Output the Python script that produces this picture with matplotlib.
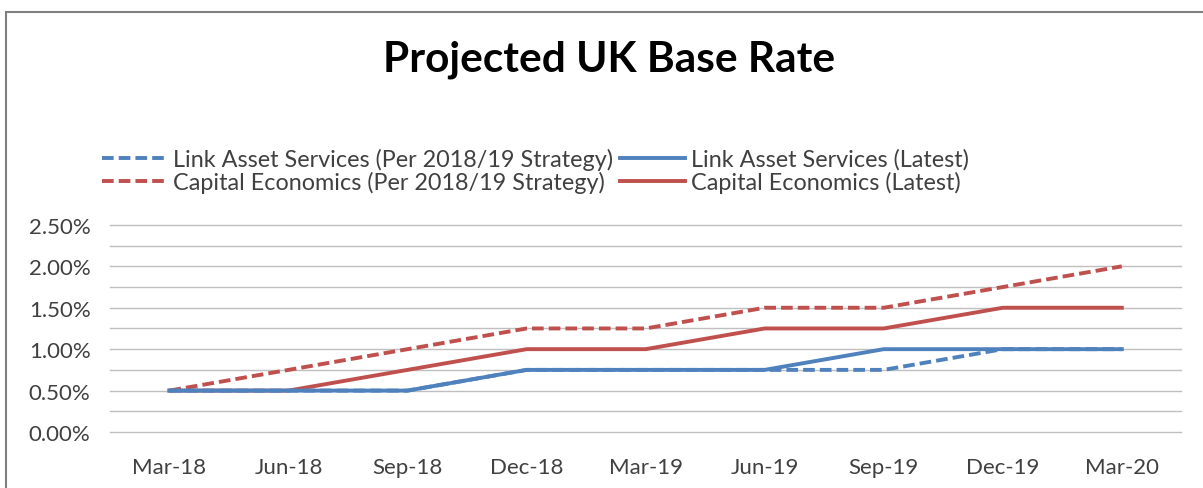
import matplotlib
matplotlib.use('Agg')
import numpy as np
import matplotlib.pyplot as plt
from matplotlib.ticker import FuncFormatter, MultipleLocator
from matplotlib.patches import Rectangle

plt.rcParams['font.family'] = ['Lato', 'DejaVu Sans']

# Quarterly base rate projections (%)
quarters = ['Mar-18', 'Jun-18', 'Sep-18', 'Dec-18', 'Mar-19',
            'Jun-19', 'Sep-19', 'Dec-19', 'Mar-20']
link_strategy = [0.50, 0.50, 0.50, 0.75, 0.75, 0.75, 0.75, 1.00, 1.00]
link_latest = [0.50, 0.50, 0.50, 0.75, 0.75, 0.75, 1.00, 1.00, 1.00]
capital_strategy = [0.50, 0.75, 1.00, 1.25, 1.25, 1.50, 1.50, 1.75, 2.00]
capital_latest = [0.50, 0.50, 0.75, 1.00, 1.00, 1.25, 1.25, 1.50, 1.50]

BLUE = '#4F81BD'
RED = '#C0504D'
DASH = (0, (3, 1.3))

fig = plt.figure(figsize=(12.03, 4.89), dpi=100)
ax = fig.add_axes([0.0914, 0.1145, 0.8906, 0.4235])

x = list(range(len(quarters)))
ax.plot(x, capital_strategy, color=RED, lw=2.8, ls=DASH,
        label='Capital Economics (Per 2018/19 Strategy)')
ax.plot(x, capital_latest, color=RED, lw=2.8,
        label='Capital Economics (Latest)')
ax.plot(x, link_latest, color=BLUE, lw=2.8,
        label='Link Asset Services (Latest)')
ax.plot(x, link_strategy, color=BLUE, lw=2.8, ls=DASH,
        label='Link Asset Services (Per 2018/19 Strategy)')

ax.set_xlim(-0.5, len(quarters) - 0.5)
ax.set_ylim(0, 2.5)
ax.set_xticks(x)
ax.set_xticklabels(quarters)
ax.yaxis.set_major_locator(MultipleLocator(0.5))
ax.yaxis.set_major_formatter(FuncFormatter(lambda v, p: f'{v:.2f}%'))

# horizontal gridlines every quarter point, drawn unclipped so 0% shows
for v in np.arange(0, 2.51, 0.25):
    ax.axhline(v, color='#BFBFBF', lw=1.0, zorder=0, clip_on=False)

for s in ax.spines.values():
    s.set_visible(False)
ax.tick_params(axis='both', which='both', length=0, labelsize=16,
               colors='#404040')
ax.tick_params(axis='x', pad=18)
ax.tick_params(axis='y', pad=14)

fig.text(0.506, 0.877, 'Projected UK Base Rate', ha='center', va='center',
         fontsize=30.5, fontweight='bold', color='black')

h = {l.get_label(): l for l in ax.get_lines()}
order = ['Link Asset Services (Per 2018/19 Strategy)',
         'Capital Economics (Per 2018/19 Strategy)',
         'Link Asset Services (Latest)',
         'Capital Economics (Latest)']
fig.legend([h[k] for k in order], order, ncol=2, loc='upper left',
           bbox_to_anchor=(0.067, 0.739), frameon=False, fontsize=16.8,
           handlelength=2.8, handletextpad=0.25, columnspacing=0.3,
           labelspacing=0.05, labelcolor='#404040')

# outer chart border
fig.patches.append(Rectangle((0.005, -0.05), 1.2, 1.023, transform=fig.transFigure,
                             fill=False, edgecolor='#7F7F7F', lw=1.5))

fig.savefig('out.png', dpi=100)
